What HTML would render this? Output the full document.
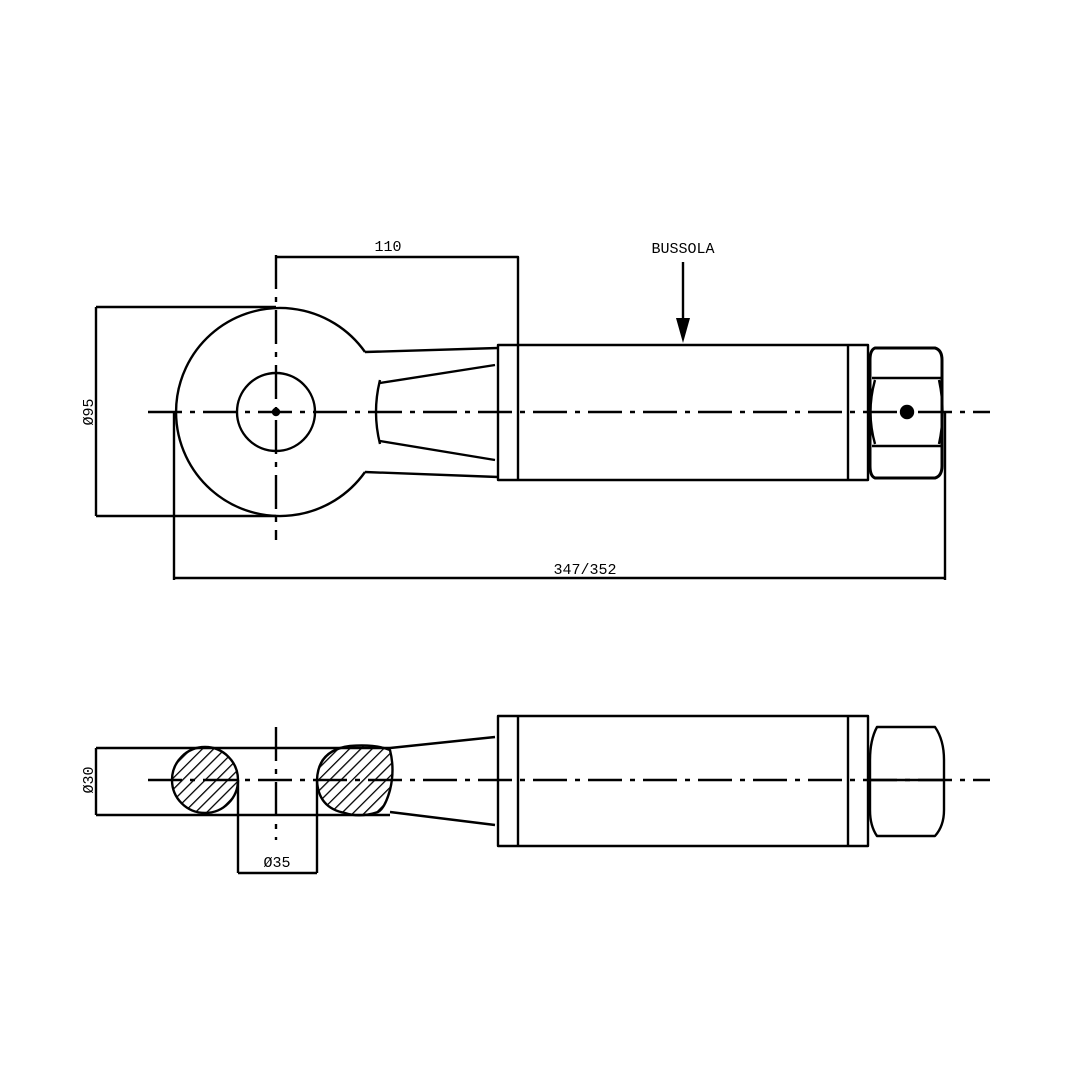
<!DOCTYPE html>
<html><head><meta charset="utf-8"><style>html,body{margin:0;padding:0;background:#fff}svg{display:block}</style></head><body>
<svg width="1080" height="1080" viewBox="0 0 1080 1080" xmlns="http://www.w3.org/2000/svg">
<defs>
<pattern id="h" width="8" height="8" patternUnits="userSpaceOnUse" patternTransform="rotate(45)"><line x1="0" y1="0" x2="0" y2="8" stroke="#000" stroke-width="2.6"/></pattern>
</defs>
<g fill="none" stroke="#000" stroke-width="2.4" stroke-linejoin="round">
<!-- TOP VIEW -->
<line x1="148" y1="412" x2="990" y2="412" stroke-dasharray="34,8,5,8"/>
<line x1="276" y1="255" x2="276" y2="540" stroke-dasharray="34,8,5,8"/>
<path d="M365 352 A104 104 0 1 0 365 472"/>
<path d="M365 352 L498 348 M365 472 L498 477"/>
<path d="M380 383 L495 365 M380 441 L495 460 M380 380 Q372 412 380 444"/>
<circle cx="276" cy="412" r="39"/>
<circle cx="276" cy="412" r="3" fill="#000"/>
<rect x="498" y="345" width="370" height="135"/>
<line x1="518" y1="345" x2="518" y2="480"/>
<line x1="848" y1="345" x2="848" y2="480"/>
<path d="M875 348 H935 Q942 350 942 360 V466 Q942 476 935 478 H875 Q870 476 870 466 V360 Q870 350 875 348 Z" stroke-width="3"/>
<path d="M872 378 H942 M872 446 H942"/>
<path d="M875 380 Q866 412 875 444 M939 380 Q946 412 939 444"/>
<circle cx="907" cy="412" r="6" fill="#000"/>
<!-- dims -->
<path d="M276 257 H518 V345"/>
<path d="M96 307 H276 M96 516 H276 M96 307 V516"/>
<path d="M174 412 V580 M945 412 V580 M174 578 H945"/>
<line x1="683" y1="262" x2="683" y2="325"/>
<!-- BOTTOM VIEW -->
<line x1="148" y1="780" x2="990" y2="780" stroke-dasharray="34,8,5,8"/>
<line x1="276" y1="727" x2="276" y2="840" stroke-dasharray="34,8,5,8"/>
<path d="M96 748 H390 M96 815 H390 M96 748 V815"/>
<circle cx="205" cy="780" r="33" fill="url(#h)"/>
<path d="M350 746 Q375 744 390 750 Q395 770 390 790 Q385 808 378 812 Q360 818 345 813 Q318 808 317 780 Q318 750 350 746 Z" fill="url(#h)"/>
<path d="M390 748 L495 737 M390 812 L495 825"/>
<path d="M238 780 V873 M317 780 V873 M238 873 H317"/>
<rect x="498" y="716" width="370" height="130"/>
<line x1="518" y1="716" x2="518" y2="846"/>
<line x1="848" y1="716" x2="848" y2="846"/>
<path d="M877 727 H935 Q944 740 944 760 V810 Q944 826 935 836 H877 Q870 826 870 810 V760 Q870 740 877 727 Z"/>
<line x1="870" y1="780" x2="944" y2="780"/>
</g>
<polygon points="676,318 690,318 683,343" fill="#000"/>
<g font-family="Liberation Mono, monospace" font-size="15" fill="#000" text-anchor="middle">
<text x="388" y="251">110</text>
<text x="683" y="253">BUSSOLA</text>
<text x="585" y="574">347/352</text>
<text x="277" y="867">Ø35</text>
<text transform="translate(93,412) rotate(-90)">Ø95</text>
<text transform="translate(93,780) rotate(-90)">Ø30</text>
</g>
</svg>
</body></html>
